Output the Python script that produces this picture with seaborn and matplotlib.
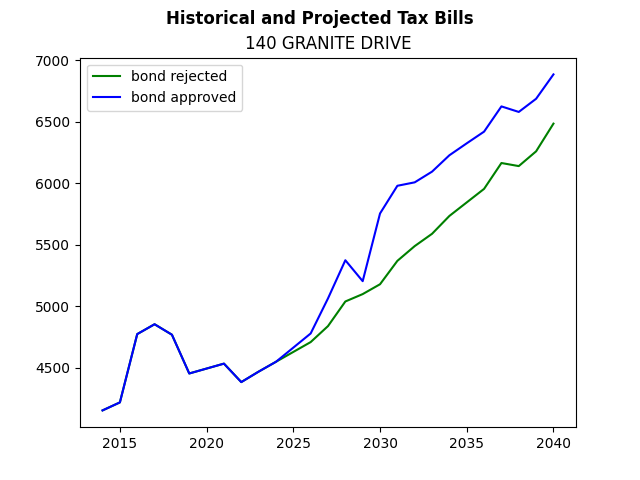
import pandas as pd
import matplotlib
matplotlib.use("Agg")
import matplotlib.pyplot as plt
import seaborn as sns

years = list(range(2014, 2041))
bond_rejected = [4155, 4220, 4775, 4855, 4770, 4455, 4495, 4535, 4385, 4470, 4550,
                 4630, 4710, 4840, 5040, 5100, 5180, 5370, 5490, 5590, 5735, 5845,
                 5955, 6165, 6140, 6260, 6485]
bond_approved = [4155, 4220, 4775, 4855, 4770, 4455, 4495, 4535, 4385, 4470, 4550,
                 4665, 4780, 5065, 5375, 5205, 5755, 5980, 6008, 6095, 6228, 6325,
                 6420, 6625, 6580, 6687, 6885]

df = pd.DataFrame({
    "year": years * 2,
    "tax": bond_rejected + bond_approved,
    "scenario": ["bond rejected"] * len(years) + ["bond approved"] * len(years),
})

fig, ax = plt.subplots(figsize=(6.4, 4.8), dpi=100)
sns.lineplot(data=df, x="year", y="tax", hue="scenario",
             palette={"bond rejected": "green", "bond approved": "blue"}, ax=ax)
ax.set_xlabel("")
ax.set_ylabel("")
ax.legend(loc="upper left")
ax.set_title("140 GRANITE DRIVE")
fig.suptitle("Historical and Projected Tax Bills", fontweight="bold")
plt.savefig("out.png", dpi=100)
